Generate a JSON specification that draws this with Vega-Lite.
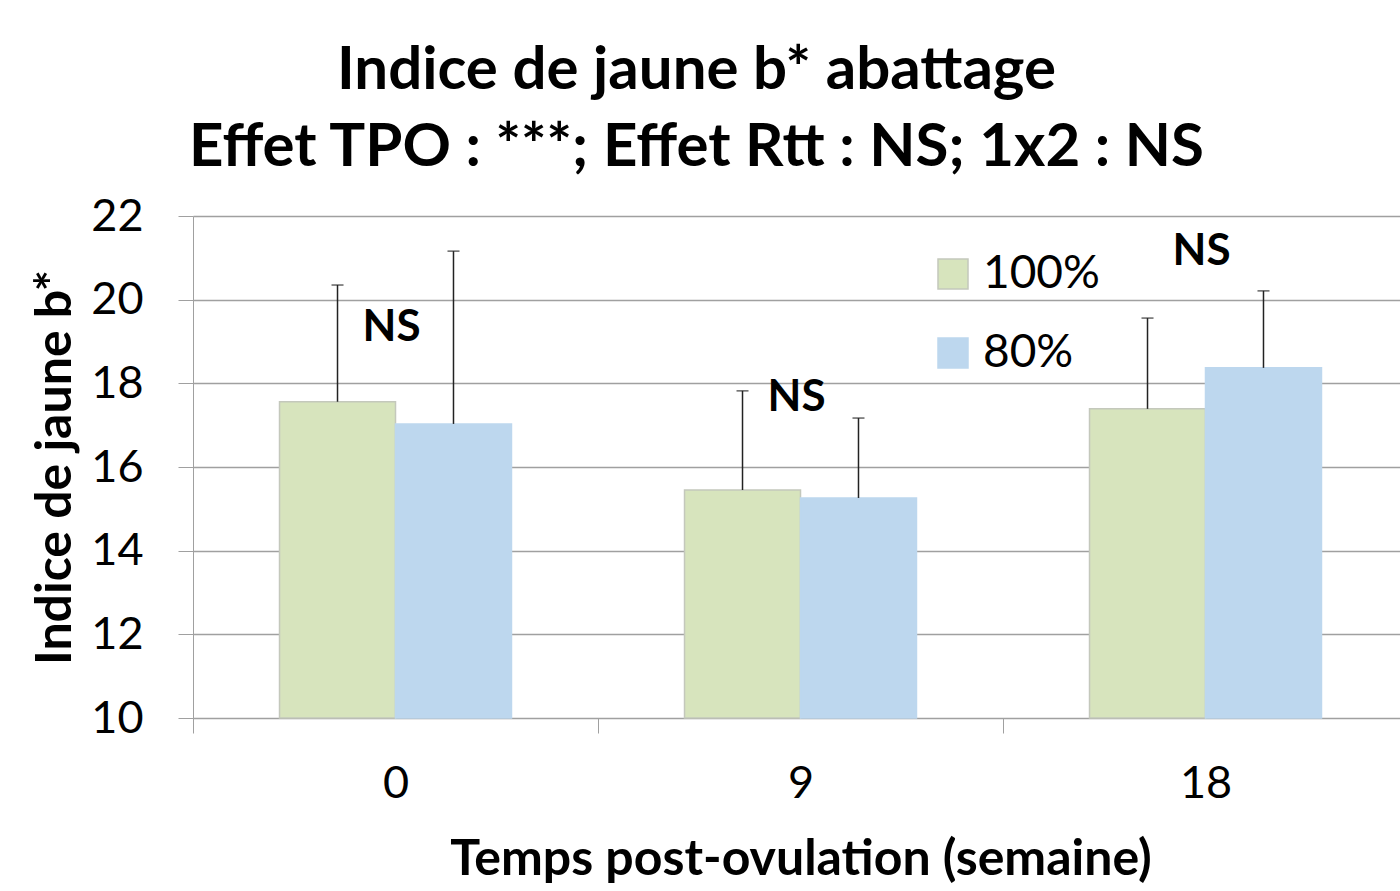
{
  "$schema": "https://vega.github.io/schema/vega-lite/v6.json",
  "autosize": "none",
  "width": 1207,
  "height": 502,
  "padding": {"left": 193, "top": 216, "right": 0, "bottom": 173},
  "background": "white",
  "title": {
    "text": ["Indice de jaune b* abattage", "Effet TPO : ***; Effet Rtt : NS;  1x2 : NS"],
    "font": "Lato",
    "fontSize": 60,
    "fontWeight": "bold",
    "color": "black",
    "lineHeight": 77,
    "anchor": "middle",
    "dx": -100,
    "offset": 15
  },
  "config": {
    "view": {"stroke": null},
    "font": "Lato"
  },
  "datasets": {
    "bars": [
      {"temps": "0", "rtt": "100%", "valeur": 17.56, "sup": 20.35},
      {"temps": "0", "rtt": "80%", "valeur": 17.03, "sup": 21.16},
      {"temps": "9", "rtt": "100%", "valeur": 15.45, "sup": 17.82},
      {"temps": "9", "rtt": "80%", "valeur": 15.26, "sup": 17.17},
      {"temps": "18", "rtt": "100%", "valeur": 17.39, "sup": 19.56},
      {"temps": "18", "rtt": "80%", "valeur": 18.37, "sup": 20.21}
    ],
    "notes": [
      {"temps": "0", "pos": 19.33, "label": "NS"},
      {"temps": "9", "pos": 17.66, "label": "NS"},
      {"temps": "18", "pos": 21.13, "label": "NS"}
    ]
  },
  "encoding": {
    "x": {
      "field": "temps",
      "type": "nominal",
      "sort": ["0", "9", "18"],
      "scale": {"range": [0, 1215], "paddingInner": 0, "paddingOuter": 0},
      "title": "Temps post-ovulation (semaine)",
      "axis": {
        "labelAngle": 0,
        "labelFontSize": 45,
        "labelColor": "black",
        "labelPadding": 28,
        "tickBand": "extent",
        "tickSize": 15,
        "tickColor": "#a0a0a0",
        "domainColor": "#a0a0a0",
        "grid": false,
        "titleFontSize": 50,
        "titleFontWeight": "bold",
        "titleColor": "black",
        "titlePadding": 28
      }
    }
  },
  "layer": [
    {
      "data": {"name": "bars"},
      "mark": {"type": "bar", "strokeWidth": 1.5},
      "encoding": {
        "xOffset": {"field": "rtt", "type": "nominal", "sort": ["100%", "80%"], "scale": {"paddingInner": 0, "paddingOuter": 0.746}},
        "y": {
          "field": "valeur",
          "type": "quantitative",
          "scale": {"domain": [10, 22], "zero": false, "nice": false},
          "title": "Indice de jaune b*",
          "axis": {
            "values": [10, 12, 14, 16, 18, 20, 22],
            "labelFontSize": 45,
            "labelColor": "black",
            "labelPadding": 35,
            "tickSize": 15,
            "tickColor": "#a0a0a0",
            "domainColor": "#a0a0a0",
            "gridColor": "#a0a0a0",
            "gridWidth": 1.5,
            "titleFontSize": 50,
            "titleFontWeight": "bold",
            "titleColor": "black",
            "titlePadding": 10
          }
        },
        "y2": {"datum": 10},
        "color": {
          "field": "rtt",
          "type": "nominal",
          "sort": ["100%", "80%"],
          "scale": {"domain": ["100%", "80%"], "range": ["#d7e4bd", "#bdd7ee"]},
          "legend": {
            "title": null,
            "orient": "none",
            "legendX": 737,
            "legendY": 35,
            "symbolType": "square",
            "symbolSize": 900,
            "symbolStrokeWidth": 1.5,
            "labelFontSize": 46,
            "labelColor": "black",
            "labelOffset": 7,
            "rowPadding": 33
          }
        },
        "stroke": {
          "field": "rtt",
          "type": "nominal",
          "scale": {"domain": ["100%", "80%"], "range": ["#c4c8bc", "#bdd7ee"]},
          "legend": null
        }
      }
    },
    {
      "data": {"name": "bars"},
      "mark": {"type": "rule", "color": "#222222", "strokeWidth": 1.5},
      "encoding": {
        "xOffset": {"field": "rtt", "type": "nominal", "sort": ["100%", "80%"]},
        "y": {"field": "valeur", "type": "quantitative"},
        "y2": {"field": "sup"}
      }
    },
    {
      "data": {"name": "bars"},
      "mark": {"type": "tick", "color": "#222222", "thickness": 1.5, "size": 12},
      "encoding": {
        "xOffset": {"field": "rtt", "type": "nominal", "sort": ["100%", "80%"]},
        "y": {"field": "sup", "type": "quantitative"}
      }
    },
    {
      "data": {"name": "notes"},
      "mark": {"type": "text", "fontSize": 44, "fontWeight": "bold", "color": "black", "dx": -4},
      "encoding": {
        "y": {"field": "pos", "type": "quantitative"},
        "text": {"field": "label"}
      }
    }
  ]
}
